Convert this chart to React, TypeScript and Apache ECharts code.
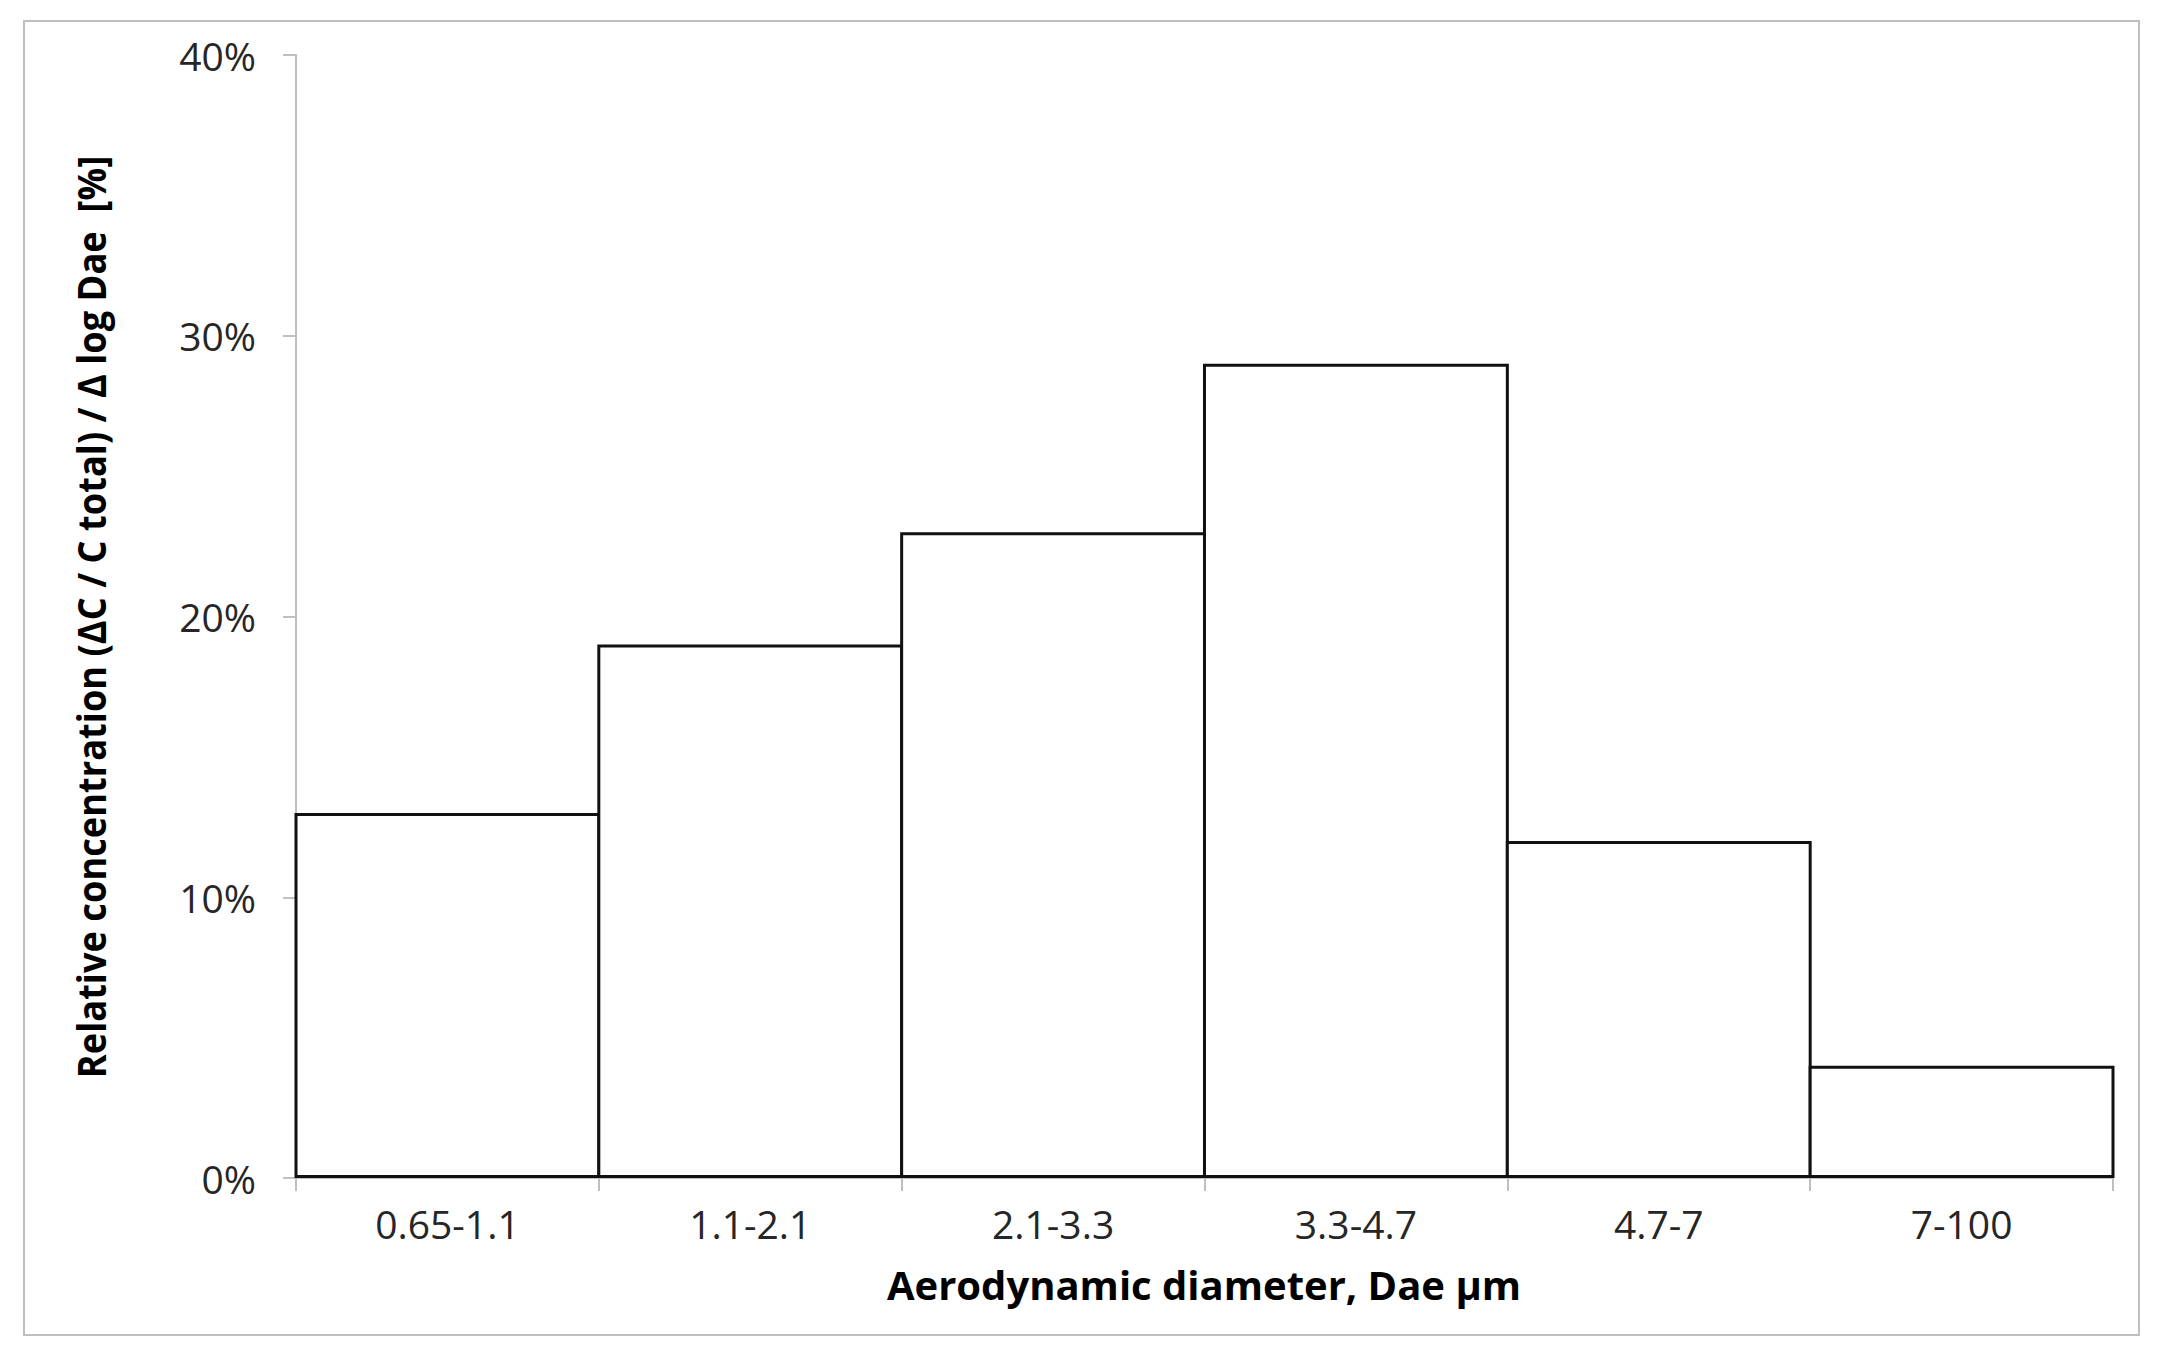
import React, { useEffect, useRef } from "react";
import * as echarts from "echarts";

const categories = ["0.65-1.1", "1.1-2.1", "2.1-3.3", "3.3-4.7", "4.7-7", "7-100"];
const values = [13, 19, 23, 29, 12, 4];
const yTicks = [0, 10, 20, 30, 40];
const xTitle = "Aerodynamic diameter, Dae µm";
const yTitle = "Relative concentration (ΔC / C total) / Δ log Dae  [%]";

const FONT = "'Open Sans', 'Noto Sans', 'Liberation Sans', sans-serif";

function measure(text: string, font: string): number {
  const c = document.createElement("canvas");
  const ctx = c.getContext("2d");
  if (!ctx) return text.length * 20;
  ctx.font = font;
  return ctx.measureText(text).width;
}

export default function App() {
  const ref = useRef<HTMLDivElement>(null);
  useEffect(() => {
    document.body.style.margin = "0";
    if (!ref.current) return;
    const chart = echarts.init(ref.current, null, { renderer: "svg" });

    const tickW = measure("0.65-1.1", `38px ${FONT}`);
    const tickSize = Math.round((38 * 145) / tickW);
    const xtW = measure(xTitle, `bold 40px ${FONT}`);
    const xtSize = Math.round((40 * 638) / xtW);
    const ytW = measure(yTitle, `bold 40px ${FONT}`);
    const ytScale = 923 / ytW;

    chart.setOption({
      animation: false,
      backgroundColor: "#ffffff",
      grid: { left: 296, right: 48, top: 55, bottom: 187, containLabel: false },
      xAxis: {
        type: "category",
        data: categories,
        boundaryGap: true,
        axisLine: { show: true, lineStyle: { color: "#bfbfbf", width: 2 } },
        axisTick: { show: true, length: 13, lineStyle: { color: "#bfbfbf", width: 2 } },
        axisLabel: { color: "#262626", fontSize: tickSize, fontFamily: FONT, margin: 26 },
        splitLine: { show: false },
      },
      yAxis: {
        type: "value",
        min: yTicks[0],
        max: yTicks[yTicks.length - 1],
        interval: 10,
        axisLine: { show: true, lineStyle: { color: "#bfbfbf", width: 2 } },
        axisTick: { show: true, length: 13, lineStyle: { color: "#bfbfbf", width: 2 } },
        axisLabel: { color: "#262626", fontSize: tickSize, fontFamily: FONT, margin: 40, formatter: "{value}%" },
        splitLine: { show: false },
      },
      series: [
        {
          type: "bar",
          data: values,
          barWidth: "101%",
          itemStyle: { color: "#ffffff", borderColor: "#111111", borderWidth: 3 },
        },
      ],
      graphic: [
        {
          type: "rect",
          shape: { x: 24, y: 21, width: 2115, height: 1314 },
          style: { fill: "none", stroke: "#bfbfbf", lineWidth: 2 },
          silent: true,
          z: -1,
        },
        {
          type: "text",
          x: 1204,
          y: 1284,
          style: {
            text: xTitle,
            fontSize: xtSize,
            fontWeight: "bold",
            fontFamily: FONT,
            fill: "#000000",
            textAlign: "center",
            textVerticalAlign: "middle",
          },
        },
        {
          type: "text",
          x: 90,
          y: 617,
          rotation: Math.PI / 2,
          scaleX: ytScale,
          style: {
            text: yTitle,
            fontSize: 40,
            fontWeight: "bold",
            fontFamily: FONT,
            fill: "#000000",
            textAlign: "center",
            textVerticalAlign: "middle",
          },
        },
      ],
    });
    return () => chart.dispose();
  }, []);
  return <div ref={ref} style={{ width: 2161, height: 1365 }} />;
}
